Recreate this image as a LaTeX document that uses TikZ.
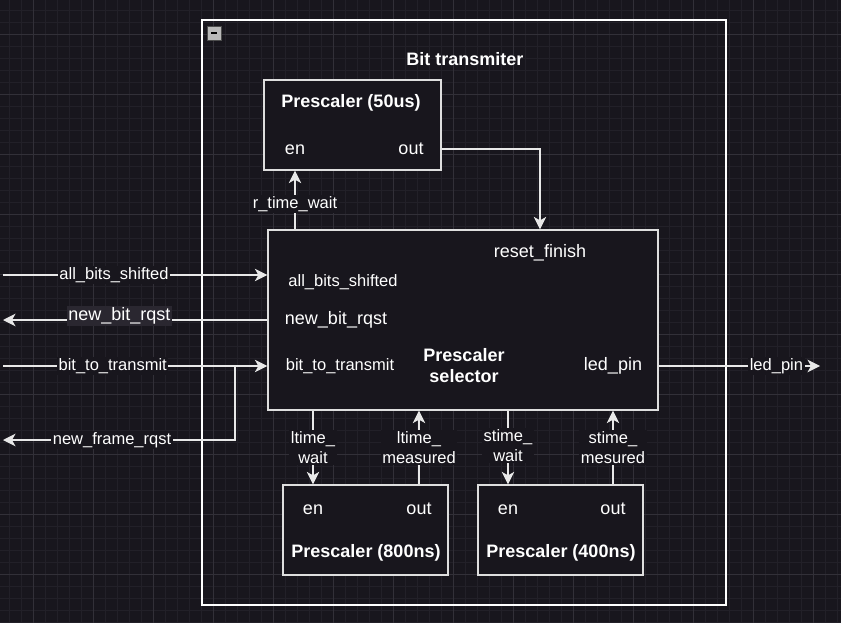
\documentclass[tikz,border=0pt]{standalone}
\usepackage{fontspec}
\setmainfont{Liberation Sans}
\usetikzlibrary{arrows.meta}
\definecolor{canvas}{RGB}{24,22,29}
\definecolor{gridminor}{RGB}{34,32,40}
\definecolor{gridmajor}{RGB}{50,48,56}
\definecolor{wire}{RGB}{232,232,232}
\definecolor{boxline}{RGB}{222,222,222}
\definecolor{labelbg}{RGB}{42,39,48}

\begin{document}
\begin{tikzpicture}[x=1pt,y=-1pt,>={Stealth[length=12.5pt,width=12.5pt,inset=3.5pt]}]
  \tikzstyle{block}=[draw=boxline,fill=canvas,line width=1.3pt,inner sep=0pt,minimum width=165pt,minimum height=90pt]
  \tikzstyle{port}=[text=white,inner sep=0pt,font=\fontsize{18}{21}\selectfont]
  \tikzstyle{portsm}=[port,font=\fontsize{16.5}{20}\selectfont]
  \tikzstyle{heading}=[port,align=center,font=\bfseries\fontsize{18}{21}\selectfont]
  \tikzstyle{wirelabel}=[fill=canvas,text=white,inner sep=1.5pt,align=center,font=\fontsize{16.5}{20}\selectfont]
  \tikzstyle{wireline}=[draw=wire,line width=1.3pt,->]

  \fill[canvas] (0,0) rectangle (841,623);
  \useasboundingbox (0,0) rectangle (841,623);
  \foreach \gx in {9,21,...,837} \draw[gridminor,line width=0.7pt] (\gx,0) -- (\gx,623);
  \foreach \gy in {10,22,...,622} \draw[gridminor,line width=0.7pt] (0,\gy) -- (841,\gy);
  \foreach \gx in {33,93,...,813} \draw[gridmajor,line width=0.8pt] (\gx,0) -- (\gx,623);
  \foreach \gy in {34,94,...,574} \draw[gridmajor,line width=0.8pt] (0,\gy) -- (841,\gy);

  \node[draw=white,line width=1.3pt,inner sep=0pt,minimum width=524pt,minimum height=585pt] (bittx) at (464,312.5) {};
  \node[draw=black!70,fill=gray!55,line width=0.6pt,inner sep=0pt,minimum size=14pt] (collapse) at (214,33) {\textcolor{black}{\rule{6pt}{2pt}}};
  \node[heading] (bittxname) at (465,59) {Bit transmiter};

  \node[block,minimum width=177pt] (p50) at (352.5,125) {};
  \node[heading] (p50name) at (351,103) {Prescaler (50us)};
  \node[port] (p50en) at (295,150) {en};
  \node[port] (p50out) at (411,149) {out};

  \node[block,minimum width=390pt,minimum height=180pt] (selector) at (463,320) {};
  \node[port] (resetfin) at (540,253) {reset\_finish};
  \node[portsm] (allbits) at (343,282) {all\_bits\_shifted};
  \node[port] (newbit) at (336,320) {new\_bit\_rqst};
  \node[portsm] (bittotx) at (340,366) {bit\_to\_transmit};
  \node[heading] (selname) at (464,366) {Prescaler\\selector};
  \node[port] (ledpin) at (613,366) {led\_pin};

  \node[block] (p800) at (365.5,530) {};
  \node[heading] (p800name) at (366,553) {Prescaler (800ns)};
  \node[port] (p800en) at (313,510) {en};
  \node[port] (p800out) at (419,509) {out};

  \node[block] (p400) at (560.5,530) {};
  \node[heading] (p400name) at (561,553) {Prescaler (400ns)};
  \node[port] (p400en) at (508,510) {en};
  \node[port] (p400out) at (613,509) {out};

  \coordinate (allin) at (3,275);
  \coordinate (bitrq) at (3,320);
  \coordinate (bitin) at (3,366);
  \coordinate (split) at (235,366);
  \coordinate (framerq) at (3,440);
  \coordinate (ledout) at (820,366);

  \draw[wireline] (selector.north -| p50en) -- (p50.south -| p50en) node[wirelabel,pos=0.43] (rtw) {r\_time\_wait};
  \draw[wireline] (p50.east |- p50out) -| (selector.north -| resetfin);
  \draw[wireline] (allin) -- (selector.west |- allin) node[wirelabel,pos=0.42] {all\_bits\_shifted};
  \draw[wireline] (selector.west |- bitrq) -- (bitrq) node[wirelabel,fill=labelbg,yshift=4pt,font=\fontsize{18}{21}\selectfont,pos=0.56] {new\_bit\_rqst};
  \draw[wireline] (bitin) -- (selector.west |- bitin) node[wirelabel,pos=0.415] {bit\_to\_transmit};
  \draw[wireline] (split) |- (framerq) node[wirelabel,pos=0.765] {new\_frame\_rqst};
  \draw[wireline] (selector.east |- ledpin) -- (ledout) node[wirelabel,pos=0.73] {led\_pin};

  \draw[wireline] (selector.south -| p800en) -- (p800.north -| p800en) node[wirelabel,midway] {ltime\_\\wait};
  \draw[wireline] (p800.north -| p800out) -- (selector.south -| p800out) node[wirelabel,midway] {ltime\_\\measured};
  \draw[wireline] (selector.south -| p400en) -- (p400.north -| p400en) node[wirelabel,midway,yshift=2pt] {stime\_\\wait};
  \draw[wireline] (p400.north -| p400out) -- (selector.south -| p400out) node[wirelabel,midway] {stime\_\\mesured};
\end{tikzpicture}
\end{document}
